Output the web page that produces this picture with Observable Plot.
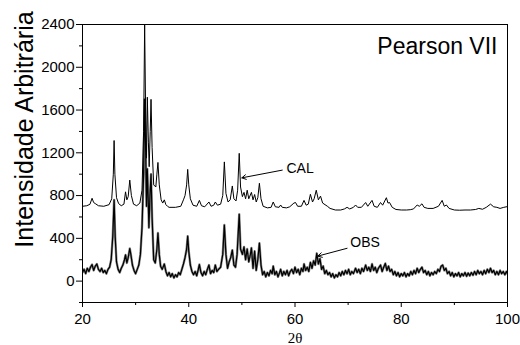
<!DOCTYPE html>
<html>
<head>
<meta charset="utf-8">
<script src="https://cdn.jsdelivr.net/npm/d3@7"></script>
<script src="https://cdn.jsdelivr.net/npm/@observablehq/plot@0.6"></script>
<style>
  html, body { margin: 0; padding: 0; background: white; }
</style>
</head>
<body>
<div id="chart"></div>
<script>
// Axis ticks
const xTicks = [20, 40, 60, 80, 100];
const xMinorTicks = [30, 50, 70, 90];
const yTicks = [0, 400, 800, 1200, 1600, 2000, 2400];
const yMinorTicks = [-200, 200, 600, 1000, 1400, 1800, 2200];

// Calculated profile (Pearson VII fit), [2θ, intensity]
const calProfile = [
  [20.0,700],[20.8,705],[21.4,718],[21.8,775],[22.1,735],[22.5,722],[23.0,705],[24.0,700],
  [25.0,715],[25.5,770],[25.8,1000],[25.95,1315],[26.1,1000],[26.4,780],[26.8,725],[27.3,705],
  [27.8,720],[28.1,835],[28.35,760],[28.6,790],[28.9,945],[29.2,800],[29.6,720],[30.2,705],
  [30.8,730],[31.2,850],[31.5,1400],[31.7,2400],[31.9,1500],[32.05,1150],[32.2,1720],[32.4,1300],
  [32.55,1070],[32.75,1400],[32.9,1700],[33.1,1250],[33.4,900],[33.8,880],[34.0,1000],[34.2,1110],
  [34.45,900],[34.8,760],[35.1,730],[35.4,760],[35.7,715],[36.0,700],[36.3,690],[37.5,690],[38.5,700],
  [39.0,760],[39.3,800],[39.6,900],[39.8,1045],[40.0,900],[40.3,770],[40.8,710],[41.5,700],
  [42.0,755],[42.4,705],[43.0,695],[43.8,740],[44.2,700],[44.7,710],[45.0,740],[45.4,710],
  [46.0,720],[46.4,800],[46.7,1115],[47.0,820],[47.4,740],[47.8,760],[48.2,890],[48.5,770],
  [48.9,750],[49.2,850],[49.5,1195],[49.75,880],[50.1,790],[50.4,830],[50.7,770],[51.0,850],
  [51.3,770],[51.8,830],[52.1,760],[52.4,810],[52.7,740],[53.0,780],[53.3,915],[53.6,770],
  [54.0,700],[54.8,685],[55.5,690],[55.9,740],[56.3,695],[57.0,690],[57.3,712],[57.6,690],
  [58.4,685],[59.0,695],[59.8,730],[60.1,735],[60.5,700],[61.2,700],[61.7,755],[62.1,710],
  [62.5,720],[62.9,812],[63.3,740],[63.6,770],[64.0,850],[64.4,760],[64.8,795],[65.2,730],
  [66.1,700],[66.6,680],[67.6,665],[68.6,665],[69.3,675],[69.8,690],[70.3,675],[71.0,690],
  [71.4,712],[71.8,690],[72.5,690],[73.3,735],[73.7,700],[74.5,755],[74.9,700],[75.5,690],
  [76.1,735],[76.5,710],[77.2,780],[77.5,730],[77.8,735],[78.3,690],[79.0,670],[80.0,665],
  [81.0,665],[81.7,668],[82.3,675],[83.0,712],[83.4,700],[83.9,723],[84.3,690],[85.0,680],
  [86.0,680],[87.0,700],[87.7,755],[88.1,700],[88.5,712],[89.0,680],[90.0,665],[91.0,663],
  [92.0,665],[93.0,665],[94.0,670],[94.6,680],[95.3,672],[96.0,690],[96.8,720],[97.4,695],
  [98.0,690],[98.6,680],[99.3,690],[100.0,697]
];

// Observed pattern, [2θ, intensity]
const obsProfile = [
  [20.0,80],[20.3,110],[20.6,70],[20.9,120],[21.2,90],[21.5,130],[21.8,155],[22.1,100],
  [22.4,140],[22.7,160],[23.0,110],[23.3,90],[23.6,120],[23.9,80],[24.2,100],[24.5,70],
  [24.8,110],[25.1,130],[25.4,200],[25.7,420],[25.95,760],[26.15,420],[26.4,180],[26.7,110],
  [27.0,80],[27.3,120],[27.6,150],[27.9,200],[28.1,245],[28.35,170],[28.6,220],[28.9,305],
  [29.1,250],[29.4,150],[29.7,100],[30.0,70],[30.3,110],[30.6,150],[30.9,250],[31.2,500],
  [31.5,1000],[31.7,1700],[31.9,1200],[32.05,700],[32.2,1050],[32.4,700],[32.5,500],[32.7,800],
  [32.9,1000],[33.1,600],[33.4,200],[33.7,170],[34.0,300],[34.2,450],[34.45,250],[34.7,140],
  [35.0,110],[35.4,160],[35.7,90],[36.0,50],[36.3,80],[36.6,40],[36.9,70],[37.2,30],
  [37.5,60],[37.8,40],[38.1,80],[38.4,60],[38.7,110],[39.0,160],[39.3,220],[39.6,300],
  [39.8,420],[40.0,280],[40.3,150],[40.6,90],[40.9,60],[41.2,90],[41.5,50],[41.8,110],
  [42.0,155],[42.3,80],[42.6,50],[42.9,90],[43.2,60],[43.5,110],[43.8,150],[44.1,70],
  [44.4,100],[44.7,80],[45.0,150],[45.3,90],[45.6,110],[46.0,130],[46.4,250],[46.7,525],
  [47.0,250],[47.3,120],[47.6,180],[47.9,220],[48.2,290],[48.5,150],[48.8,130],[49.1,250],
  [49.5,625],[49.75,300],[50.1,250],[50.4,320],[50.7,200],[51.0,300],[51.3,180],[51.6,250],
  [51.8,310],[52.1,120],[52.4,280],[52.7,100],[53.0,200],[53.3,355],[53.6,150],[53.9,60],
  [54.2,90],[54.5,40],[54.8,80],[55.1,50],[55.4,100],[55.7,70],[55.9,140],[56.2,60],
  [56.5,90],[56.8,40],[57.1,80],[57.3,110],[57.6,50],[57.9,90],[58.2,60],[58.5,100],
  [58.8,50],[59.1,90],[59.4,110],[59.7,70],[60.0,130],[60.3,80],[60.6,110],[60.9,60],
  [61.2,120],[61.5,90],[61.7,160],[62.0,100],[62.3,130],[62.6,90],[62.9,175],[63.2,120],
  [63.5,190],[63.8,150],[64.1,260],[64.4,160],[64.7,210],[65.0,110],[65.3,140],[65.6,70],
  [65.9,100],[66.2,60],[66.5,80],[66.8,40],[67.1,70],[67.4,30],[67.7,60],[68.0,40],
  [68.3,80],[68.6,50],[68.9,90],[69.2,60],[69.5,100],[69.8,70],[70.1,110],[70.4,60],
  [70.7,90],[71.0,70],[71.4,120],[71.7,80],[72.0,110],[72.3,70],[72.6,120],[72.9,90],
  [73.3,150],[73.6,100],[73.9,130],[74.2,90],[74.5,160],[74.8,100],[75.1,130],[75.4,80],
  [75.7,120],[76.1,150],[76.4,90],[76.7,130],[77.0,165],[77.3,100],[77.6,140],[77.9,90],
  [78.2,110],[78.5,60],[78.8,90],[79.1,50],[79.4,80],[79.7,40],[80.0,70],[80.3,50],
  [80.6,80],[80.9,40],[81.2,70],[81.5,50],[81.8,90],[82.1,60],[82.4,100],[82.7,70],
  [83.0,120],[83.3,80],[83.6,110],[83.9,130],[84.2,80],[84.5,100],[84.8,60],[85.1,90],
  [85.4,50],[85.7,80],[86.0,60],[86.3,90],[86.6,70],[86.9,110],[87.2,90],[87.5,140],
  [87.8,150],[88.1,100],[88.4,120],[88.7,70],[89.0,90],[89.3,50],[89.6,80],[89.9,40],
  [90.2,70],[90.5,50],[90.8,80],[91.1,40],[91.4,70],[91.7,50],[92.0,80],[92.3,45],
  [92.6,75],[92.9,50],[93.2,80],[93.5,55],[93.8,90],[94.1,60],[94.4,100],[94.7,70],
  [95.0,90],[95.3,60],[95.6,100],[95.9,70],[96.2,110],[96.5,80],[96.8,120],[97.1,80],
  [97.4,100],[97.7,60],[98.0,90],[98.3,60],[98.6,100],[98.9,70],[99.2,90],[99.5,60],
  [99.8,90],[100.0,70]
];

// Annotations
const seriesLabels = ["CAL", "OBS"];
const labelX = [58.4, 70.4];
const labelY = [1055, 361];
const arrowX1 = [57.6, 69.8];
const arrowY1 = [1038, 307];
const arrowX2 = [50.0, 64.3];
const arrowY2 = [966, 234];

const fitName = "Pearson VII";
const yTitle = "Intensidade Arbitrária";
const xTitle = "2θ";

const cal = calProfile.map(([t, i]) => ({t, i}));
const obs = obsProfile.map(([t, i]) => ({t, i}));
const labels = seriesLabels.map((s, k) => ({s, x: labelX[k], y: labelY[k]}));
const arrows = seriesLabels.map((s, k) => ({x1: arrowX1[k], y1: arrowY1[k], x2: arrowX2[k], y2: arrowY2[k]}));

const plain = d => String(d);

const chart = Plot.plot({
  width: 520,
  height: 345,
  marginLeft: 82,
  marginRight: 13,
  marginTop: 24,
  marginBottom: 43,
  style: {fontFamily: "'Liberation Sans', Arial, sans-serif", fontSize: "15px", color: "black", background: "white"},
  x: {domain: [20, 100], label: null},
  y: {domain: [-200, 2400], label: null},
  marks: [
    Plot.axisX(xTicks, {tickSize: 5, tickPadding: 6, fontSize: 15, tickFormat: plain, label: null, stroke: "black"}),
    Plot.axisX(xMinorTicks, {tickSize: 3, tickFormat: () => "", label: null, stroke: "black"}),
    Plot.axisY(yTicks, {tickSize: 6, tickPadding: 2, fontSize: 15, tickFormat: plain, label: null, stroke: "black"}),
    Plot.axisY(yMinorTicks, {tickSize: 3, tickFormat: () => "", label: null, stroke: "black"}),
    Plot.line(obs, {x: "t", y: "i", stroke: "#8a8a8a", strokeWidth: 2.4, clip: true}),
    Plot.line(obs, {x: "t", y: "i", stroke: "black", strokeWidth: 1.2, clip: true}),
    Plot.line(cal, {x: "t", y: "i", stroke: "black", strokeWidth: 1, clip: true}),
    Plot.arrow(arrows, {x1: "x1", y1: "y1", x2: "x2", y2: "y2", stroke: "black", strokeWidth: 1, headLength: 7}),
    Plot.text(labels, {x: "x", y: "y", text: "s", textAnchor: "start", lineAnchor: "middle", fontSize: 14, fill: "black"}),
    Plot.text([fitName], {frameAnchor: "top-right", dx: -10, dy: 13, lineAnchor: "top", textAnchor: "end", fontSize: 23, fill: "black"}),
    Plot.text([yTitle], {frameAnchor: "top-left", dx: -50, dy: 105, rotate: -90, textAnchor: "middle", lineAnchor: "bottom", fontSize: 25, fill: "black"}),
    Plot.text([xTitle], {frameAnchor: "bottom", dy: 30, lineAnchor: "top", fontSize: 15, fontFamily: "'Liberation Serif', 'Times New Roman', serif", fill: "black"}),
    Plot.frame({stroke: "black", strokeWidth: 1})
  ]
});
document.getElementById("chart").appendChild(chart);
</script>
</body>
</html>
